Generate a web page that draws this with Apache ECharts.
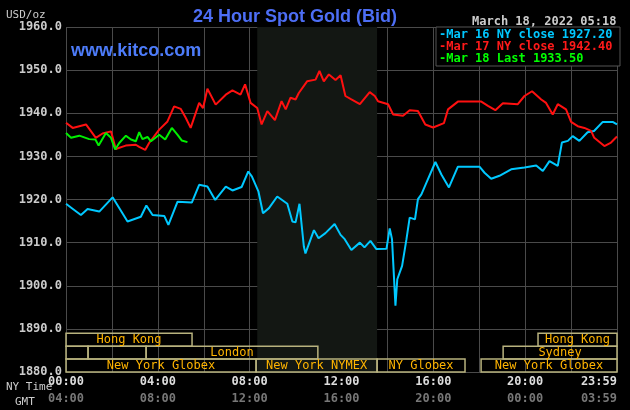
<!DOCTYPE html>
<html>
<head>
<meta charset="utf-8">
<script src="https://cdn.jsdelivr.net/npm/echarts@6/dist/echarts.min.js"></script>
<style>html,body{margin:0;background:#000}#chart{width:630px;height:410px}</style>
</head>
<body>
<div id="chart"></div>
<script>
// [hour, price]
var mar16 = [[0,1919.0],[0.3,1917.8],[0.65,1916.4],[0.94,1917.8],[1.45,1917.2],[2.03,1920.5],[2.68,1914.9],[3.26,1916.0],[3.5,1918.6],[3.77,1916.4],[4.28,1916.2],[4.46,1914.1],[4.86,1919.5],[5.48,1919.3],[5.8,1923.4],[6.16,1923.0],[6.5,1919.9],[6.96,1923.0],[7.25,1922.1],[7.65,1922.9],[7.94,1926.5],[8.1,1925.3],[8.38,1921.9],[8.58,1916.8],[8.84,1918.0],[9.2,1920.7],[9.64,1919.0],[9.86,1914.9],[10.0,1914.7],[10.17,1919.0],[10.36,1909.1],[10.43,1907.5],[10.8,1912.9],[11.0,1911.0],[11.3,1912.2],[11.7,1914.3],[11.96,1911.8],[12.14,1910.8],[12.43,1908.3],[12.8,1910.0],[13.0,1908.9],[13.26,1910.4],[13.52,1908.5],[13.96,1908.6],[14.1,1913.3],[14.2,1910.8],[14.35,1895.4],[14.43,1901.5],[14.64,1904.6],[14.83,1910.8],[14.97,1915.8],[15.2,1915.4],[15.33,1920.1],[15.48,1921.2],[15.7,1923.9],[16.09,1928.7],[16.35,1925.8],[16.68,1922.8],[17.07,1927.6],[18.01,1927.6],[18.23,1926.2],[18.52,1924.8],[18.88,1925.5],[19.39,1927.0],[19.97,1927.4],[20.48,1927.9],[20.77,1926.6],[21.06,1928.9],[21.42,1927.8],[21.6,1933.2],[21.86,1933.6],[22.07,1934.7],[22.36,1933.6],[22.72,1935.6],[23.0,1935.9],[23.38,1938.0],[23.81,1938.0],[24.0,1937.4]];
var mar17 = [[0,1937.8],[0.29,1936.6],[0.87,1937.4],[1.3,1934.3],[1.59,1935.3],[1.96,1935.8],[2.17,1931.7],[2.6,1932.5],[3.04,1932.7],[3.19,1932.2],[3.45,1931.5],[3.62,1933.1],[4.06,1936.2],[4.42,1938.1],[4.71,1941.6],[5.0,1941.0],[5.22,1938.9],[5.43,1936.6],[5.8,1942.4],[5.97,1941.2],[6.16,1945.7],[6.52,1942.0],[6.96,1944.3],[7.25,1945.3],[7.6,1944.3],[7.8,1946.7],[8.04,1942.4],[8.33,1941.2],[8.52,1937.4],[8.77,1940.5],[9.1,1938.4],[9.39,1942.8],[9.57,1940.9],[9.78,1943.6],[10.0,1943.2],[10.14,1944.7],[10.5,1947.4],[10.87,1947.8],[11.04,1949.8],[11.23,1947.4],[11.45,1949.0],[11.74,1947.7],[11.96,1948.8],[12.17,1944.0],[12.43,1943.2],[12.8,1942.1],[13.23,1944.9],[13.45,1944.0],[13.59,1942.8],[14.03,1942.1],[14.25,1939.7],[14.68,1939.4],[14.97,1940.7],[15.33,1940.5],[15.65,1937.4],[15.99,1936.7],[16.46,1937.7],[16.64,1940.9],[17.07,1942.7],[18.09,1942.7],[18.38,1941.7],[18.7,1940.7],[19.03,1942.3],[19.68,1942.1],[19.97,1944.0],[20.3,1945.1],[20.7,1943.2],[20.91,1942.4],[21.2,1939.7],[21.42,1942.1],[21.78,1940.9],[22.0,1938.0],[22.29,1937.0],[22.58,1936.6],[22.87,1935.9],[23.01,1934.3],[23.45,1932.4],[23.74,1933.2],[24.0,1934.6]];
var mar18 = [[0,1935.4],[0.22,1934.3],[0.58,1934.8],[1.01,1934.0],[1.28,1933.9],[1.42,1932.5],[1.74,1935.4],[1.96,1934.3],[2.14,1931.6],[2.32,1933.1],[2.61,1934.8],[2.83,1933.9],[3.04,1933.5],[3.19,1935.6],[3.33,1934.0],[3.55,1934.5],[3.7,1933.5],[4.06,1935.0],[4.32,1933.9],[4.61,1936.6],[4.86,1935.0],[5.04,1933.7],[5.29,1933.3]];
var legendText = ['Mar 16 NY close 1927.20', 'Mar 17 NY close 1942.40', 'Mar 18 Last 1933.50'];
var nyTicks = ['00:00', '04:00', '08:00', '12:00', '16:00', '20:00', '23:59'];
var gmtTicks = ['04:00', '08:00', '12:00', '16:00', '20:00', '00:00', '03:59'];
// [startHour, endHour, row, label]
var sessions = [[0,5.49,0,'Hong Kong'],[20.56,24,0,'Hong Kong'],[0,0.96,1,''],[0.96,3.49,1,''],[3.49,10.97,1,'London'],[19.04,24,1,'Sydney'],[0,8.28,2,'New York Globex'],[8.28,13.55,2,'New York NYMEX'],[13.55,17.38,2,'NY Globex'],[18.08,24,2,'New York Globex']];
var nymexHours = [8.33, 13.55];
var rowPrice = [[1889, 1886], [1886, 1883], [1883, 1880]];

var mono = 'DejaVu Sans Mono';
var chart = echarts.init(document.getElementById('chart'));

function tickLabel(list) {
    return function (v) {
        return v % 4 === 0 ? list[v / 4] : '';
    };
}

chart.setOption({
    backgroundColor: '#000',
    animation: false,
    grid: {left: 66, right: 13, top: 27, bottom: 38, containLabel: false, outerBoundsMode: 'none'},
    title: [
        {text: '24 Hour Spot Gold (Bid)', left: 188, top: 3, textStyle: {color: '#4d6ef5', fontSize: 18, fontWeight: 'bold', fontFamily: 'Liberation Sans'}},
        {text: 'www.kitco.com', left: 66, top: 37, textStyle: {color: '#4d7cfa', fontSize: 18, fontWeight: 'bold', fontFamily: 'Liberation Sans'}},
        {text: 'USD/oz', left: 1, top: 5, textStyle: {color: '#ccc', fontSize: 11, fontWeight: 'normal', fontFamily: mono}},
        {text: 'March 18, 2022 05:18', left: 467, top: 11, textStyle: {color: '#ccc', fontSize: 12, fontWeight: 'bold', fontFamily: mono}},
        {text: 'NY Time', left: 1, top: 377, textStyle: {color: '#ccc', fontSize: 11, fontWeight: 'normal', fontFamily: mono}},
        {text: 'GMT', left: 10, top: 392, textStyle: {color: '#ccc', fontSize: 11, fontWeight: 'normal', fontFamily: mono}}
    ],
    xAxis: [{
        type: 'value', min: 0, max: 24, interval: 2,
        axisLine: {show: false}, axisTick: {show: false},
        splitLine: {lineStyle: {color: '#4a4a4a'}},
        axisLabel: {color: '#ddd', fontFamily: mono, fontWeight: 'bold', fontSize: 12, margin: 4, formatter: tickLabel(nyTicks), showMaxLabel: true, alignMaxLabel: 'right'}
    }, {
        type: 'value', min: 0, max: 24, interval: 2, position: 'bottom', offset: 17,
        axisLine: {show: false}, axisTick: {show: false}, splitLine: {show: false},
        axisLabel: {color: '#777', fontFamily: mono, fontWeight: 'bold', fontSize: 12, margin: 4, formatter: tickLabel(gmtTicks), showMaxLabel: true, alignMaxLabel: 'right'}
    }],
    yAxis: {
        type: 'value', min: 1880, max: 1960, interval: 10,
        axisLine: {show: false}, axisTick: {show: false},
        splitLine: {lineStyle: {color: '#4a4a4a'}},
        axisLabel: {color: '#ccc', fontFamily: mono, fontWeight: 'bold', fontSize: 12, margin: 4, formatter: function (v) { return v.toFixed(1); }}
    },
    graphic: [
        {type: 'rect', shape: {x: 436, y: 27, width: 184, height: 39}, style: {fill: '#000', stroke: '#555', lineWidth: 1}, z: 100},
        {type: 'text', left: 439, top: 29, style: {text: '-' + legendText[0], fill: '#00c8ff', font: 'bold 12px "DejaVu Sans Mono"'}, z: 101},
        {type: 'text', left: 439, top: 41, style: {text: '-' + legendText[1], fill: '#ff1a1a', font: 'bold 12px "DejaVu Sans Mono"'}, z: 101},
        {type: 'text', left: 439, top: 53, style: {text: '-' + legendText[2], fill: '#00ff00', font: 'bold 12px "DejaVu Sans Mono"'}, z: 101}
    ],
    series: [
        {
            type: 'custom', renderItem: function (params, api) {
                var r = api.value(2);
                var p1 = api.coord([api.value(0), rowPrice[r][0]]);
                var p2 = api.coord([api.value(1), rowPrice[r][1]]);
                return {
                    type: 'rect',
                    shape: {x: p1[0], y: p1[1], width: p2[0] - p1[0], height: p2[1] - p1[1]},
                    style: {fill: 'rgba(0,0,0,0)', stroke: '#b8b27e', lineWidth: 1.5},
                    textContent: {style: {text: sessions[params.dataIndex][3], fill: '#ffb400', fontFamily: mono, fontSize: 12}},
                    textConfig: {position: 'inside'}
                };
            },
            data: sessions.map(function (s) { return [s[0], s[1], s[2]]; }),
            encode: {x: [0, 1], y: 2},
            z: 1
        },
        {type: 'line', data: mar16, showSymbol: false, lineStyle: {color: '#00c8ff', width: 2}, itemStyle: {color: '#00c8ff'},
            markArea: {silent: true, itemStyle: {color: '#131713'}, data: [[{xAxis: nymexHours[0]}, {xAxis: nymexHours[1]}]]}, z: 3},
        {type: 'line', data: mar17, showSymbol: false, lineStyle: {color: '#ff1010', width: 2}, z: 3},
        {type: 'line', data: mar18, showSymbol: false, lineStyle: {color: '#00ee00', width: 2}, z: 4}
    ]
});
</script>
</body>
</html>
